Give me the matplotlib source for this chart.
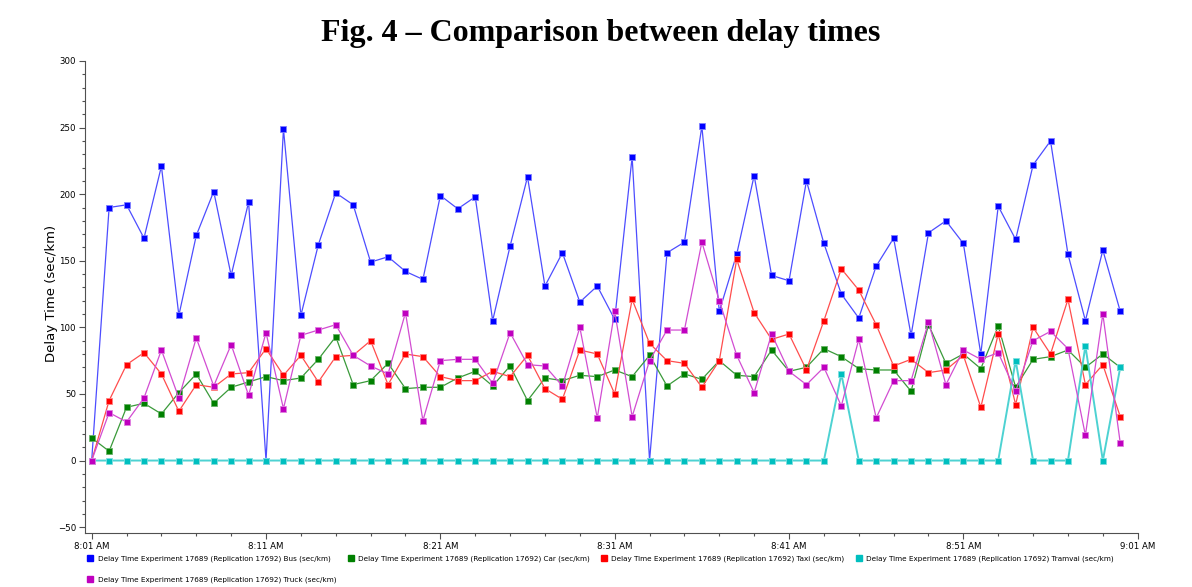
import matplotlib
matplotlib.use("Agg")
import matplotlib.pyplot as plt
import matplotlib.dates as mdates
from matplotlib.lines import Line2D
from matplotlib.ticker import MultipleLocator, FuncFormatter
import pandas as pd

# one sample per minute, 8:01 .. 9:00
times = pd.date_range("2000-01-01 08:01", periods=60, freq="min")

bus = [0, 190, 192, 167, 221, 109, 169, 202, 139, 194,
       0, 249, 109, 162, 201, 192, 149, 153, 142, 136,
       199, 189, 198, 105, 161, 213, 131, 156, 119, 131,
       106, 228, 0, 156, 164, 251, 112, 155, 214, 139,
       135, 210, 163, 125, 107, 146, 167, 94, 171, 180,
       163, 80, 191, 166, 222, 240, 155, 105, 158, 112]
car = [17, 7, 40, 43, 35, 51, 65, 43, 55, 59,
       63, 60, 62, 76, 93, 57, 60, 73, 54, 55,
       55, 62, 67, 56, 71, 45, 62, 60, 64, 63,
       68, 63, 79, 56, 65, 61, 75, 64, 63, 83,
       67, 70, 84, 78, 69, 68, 68, 52, 102, 73,
       80, 69, 101, 55, 76, 78, 83, 70, 80, 70]
taxi = [0, 45, 72, 81, 65, 37, 57, 55, 65, 66,
        84, 64, 79, 59, 78, 79, 90, 57, 80, 78,
        63, 60, 60, 67, 63, 79, 54, 46, 83, 80,
        50, 121, 88, 75, 73, 55, 75, 151, 111, 91,
        95, 68, 105, 144, 128, 102, 71, 76, 66, 68,
        79, 40, 95, 42, 100, 80, 121, 57, 72, 33]
tramvai = [0, 0, 0, 0, 0, 0, 0, 0, 0, 0,
           0, 0, 0, 0, 0, 0, 0, 0, 0, 0,
           0, 0, 0, 0, 0, 0, 0, 0, 0, 0,
           0, 0, 0, 0, 0, 0, 0, 0, 0, 0,
           0, 0, 0, 65, 0, 0, 0, 0, 0, 0,
           0, 0, 0, 75, 0, 0, 0, 86, 0, 70]
truck = [0, 36, 29, 47, 83, 47, 92, 56, 87, 49,
         96, 39, 94, 98, 102, 79, 71, 65, 111, 30,
         75, 76, 76, 58, 96, 72, 71, 56, 100, 32,
         112, 33, 75, 98, 98, 164, 120, 79, 51, 95,
         67, 57, 70, 41, 91, 32, 60, 60, 104, 57,
         83, 76, 81, 52, 90, 97, 84, 19, 110, 13]

names = ["Bus", "Car", "Taxi", "Tramvai", "Truck"]
series = [bus, car, taxi, tramvai, truck]
colors = ["#0000ff", "#008000", "#ff0000", "#00bfbf", "#bf00bf"]
line_colors = ["#4d4dff", "#3a9a3a", "#ff4d4d", "#4dd2d2", "#d24dd2"]
edge_colors = ["#8080ff", "#66b366", "#ff8080", "#80e0e0", "#e080e0"]
line_widths = [0.9, 0.9, 0.9, 1.4, 0.9]

plt.rcParams["font.family"] = ["DejaVu Sans"]

fig = plt.figure(figsize=(11.92, 5.87), dpi=100)
ax = fig.add_axes([85 / 1192, 1 - 533 / 587, 1052.7 / 1192, 472 / 587])

for vals, c, lc, ec, lw in zip(series, colors, line_colors, edge_colors, line_widths):
    ax.plot(times, vals, color=lc, lw=lw, marker="s", ms=5,
            mfc=c, mec=ec, mew=0.6)

start = times[0]
ax.set_xlim(start - pd.Timedelta(seconds=23), start + pd.Timedelta(minutes=60))
ax.set_ylim(-54.4, 300)

ax.xaxis.set_major_locator(mdates.MinuteLocator(byminute=[1, 11, 21, 31, 41, 51]))
ax.xaxis.set_minor_locator(mdates.MinuteLocator(byminute=range(1, 60, 2)))


def fmt_time(x, pos=None):
    d = mdates.num2date(x)
    return "%d:%02d %s" % ((d.hour - 1) % 12 + 1, d.minute, "AM" if d.hour < 12 else "PM")


ax.xaxis.set_major_formatter(FuncFormatter(fmt_time))
ax.yaxis.set_major_locator(MultipleLocator(50))
ax.yaxis.set_minor_locator(MultipleLocator(10))

for s in ["top", "right"]:
    ax.spines[s].set_visible(False)
for s in ["left", "bottom"]:
    ax.spines[s].set_color("#505050")
    ax.spines[s].set_linewidth(0.8)

ax.tick_params(which="major", length=4.5, width=0.8, color="#505050",
               labelsize=6.2, pad=2)
ax.tick_params(which="minor", length=2.4, width=0.8, color="#505050")

fig.text(0.504, 1 - 33 / 587, "Fig. 4 \u2013 Comparison between delay times",
         family="Liberation Serif", weight="bold", fontsize=23,
         ha="center", va="center")
fig.text(52 / 1192, 1 - 293.5 / 587, "Delay Time (sec/km)", rotation=90,
         fontsize=9.5, ha="center", va="center")

labels = ["Delay Time Experiment 17689 (Replication 17692) %s (sec/km)" % n for n in names]
handles = [Line2D([], [], ls="none", marker="s", ms=5, mfc=c, mec=c) for c in colors]
order = [0, 4, 1, 2, 3]
fig.legend([handles[i] for i in order], [labels[i] for i in order],
           loc="upper left", bbox_to_anchor=(87.5 / 1192, 1 - 555 / 587),
           ncol=4, frameon=False, fontsize=5.2, borderpad=0, borderaxespad=0,
           handlelength=0.8, handletextpad=0.6, columnspacing=1.6,
           labelspacing=2.0)

fig.savefig("out.png", dpi=100)
